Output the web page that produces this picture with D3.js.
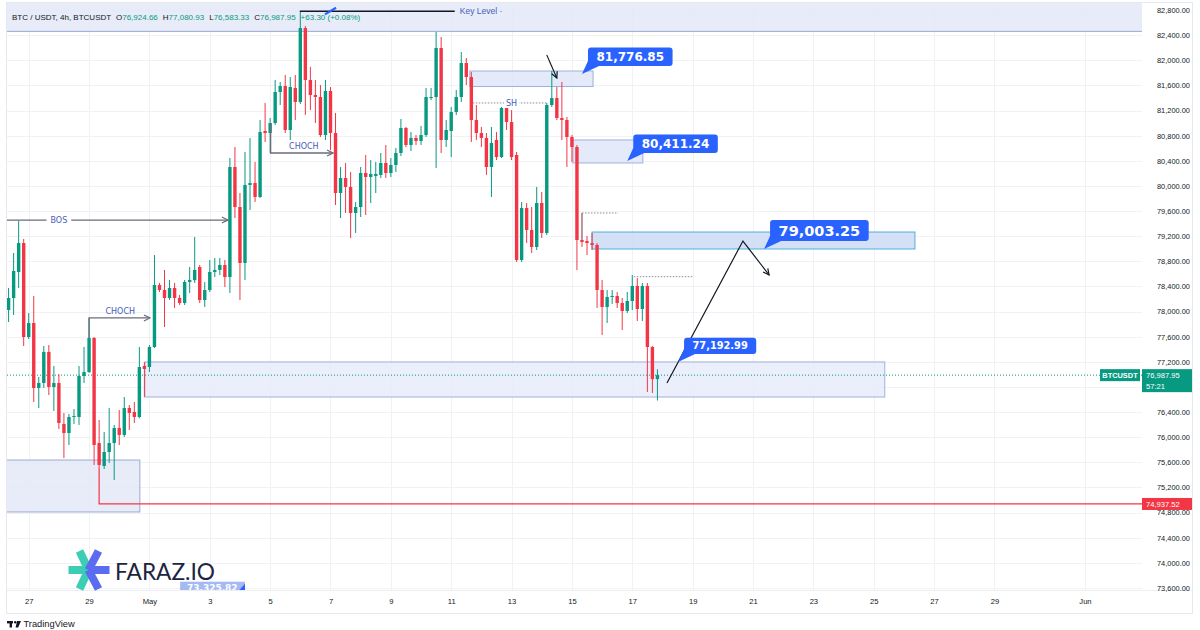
<!DOCTYPE html>
<html>
<head>
<meta charset="utf-8">
<script src="https://cdn.jsdelivr.net/npm/d3@7"></script>
<style>
  body { margin: 0; background: #ffffff; }
  svg { display: block; font-family: "Liberation Sans", Arial, sans-serif; }
</style>
</head>
<body>
<svg id="chart" width="1200" height="630"></svg>
<script>
// 4h BTC/USDT candles, first bar 26 Apr 08:00 UTC
const barStart = Date.UTC(2025, 3, 26, 8);
const barHours = 4;

const opens = [78025,78216,78630,79091,77595,77818,76784,76863,77357,76799,76863,76211,76067,76322,76322,76975,77038,77579,75908,75542,
  75765,75908,76147,76036,76465,76402,76322,77134,77118,77436,78423,78343,78216,78375,78216,78136,78471,78500,78709,78184,
  78343,78630,78662,78741,78550,80301,79664,78773,80015,80046,79824,80874,80842,81001,81495,81590,80890,81558,81336,82513,
  81686,81447,81415,80810,81511,80842,79887,80126,79983,79569,79664,80206,80142,80158,80174,80365,80206,80333,80524,80922,
  80651,80763,80715,80810,81399,81415,82195,80731,80874,81176,81415,81956,81733,81049,80842,80763,80301,80731,80460,81240,
  81017,80492,78821,79648,79298,79028,79728,79251,81288,81399,81081,81049,80779,80619,79139,79123,79091,79060,78343,78073,
  78232,78248,78136,78009,78168,78407,78041,78407,77436,76924.66];
const highs = [78375,78932,79442,79155,77977,78248,76959,77452,77468,77134,77006,76386,76370,76449,77134,77436,77898,77595,76274,76083,
  76465,76195,76433,76640,76513,76561,77436,77197,77468,78900,78455,78662,78503,78455,78264,78503,78709,79187,78741,78471,
  78821,78853,78853,78821,80444,80619,79887,80540,80763,80381,81049,81320,81081,81686,81654,81765,81733,81765,82780,82545,
  81893,81686,81606,81686,81574,81161,80301,80365,80221,79744,80301,80492,80412,80381,80524,80651,80444,80603,81065,80938,
  80858,80810,80954,81558,81558,82450,82370,81049,81256,81527,82131,82036,81813,81288,80938,80842,80938,80858,81256,81288,
  81208,80540,79744,79728,79664,79983,79903,81320,81830,81574,81654,81097,80810,80651,79569,79203,79251,79091,78503,78343,
  78343,78312,78216,78312,78582,78534,78455,78455,77452,77080.93];
const lows = [77834,77945,78375,77452,77563,76561,76465,76784,76672,76418,76131,75669,75876,76211,76195,76863,77022,75558,75510,75494,
  75590,75319,75876,76004,76115,76227,76300,76640,77038,77420,78312,77754,78184,78057,78105,78105,78296,78455,78136,78073,
  78312,78550,78582,78391,78296,79489,78184,78503,79617,79744,79808,80699,80524,80969,81288,80842,80731,81049,81304,81129,
  81208,81001,80779,80731,80572,79696,79489,79569,79171,79251,79505,79537,79728,79887,80126,80126,80142,80221,80476,80619,
  80556,80651,80651,80779,81367,80285,80524,80619,80460,81129,81336,81606,80699,80731,80619,80174,79824,80412,80444,80890,
  80412,78789,78789,79091,78932,78980,79171,79219,81256,81049,80731,80301,80381,78662,79028,78900,78980,78057,77627,77818,
  78121,78057,77707,77977,78025,77850,77850,76720,76704,76583.33];
const closes = [78216,78646,79091,77595,77818,76784,76863,77357,76799,76863,76227,76067,76322,76338,76975,77038,77579,75876,75558,75765,
  75908,76147,76036,76465,76386,76322,77118,77086,77436,78423,78343,78216,78375,78216,78136,78471,78503,78662,78184,78343,
  78630,78662,78741,78550,80301,79664,78773,80015,80046,79824,80858,80842,81001,81495,81590,80890,81574,81336,82513,81686,
  81447,81415,80810,81511,80842,79887,80126,79983,79569,79664,80206,80142,80190,80190,80365,80206,80333,80524,80922,80651,
  80763,80715,80810,81415,81415,82195,80731,80890,81176,81415,81956,81733,81049,80842,80763,80301,80683,80460,81240,81017,
  80460,78821,79648,79298,79028,79728,79251,81288,81399,81081,81049,80779,80619,79139,79107,79091,79060,78343,78073,78232,
  78248,78136,78009,78168,78407,78041,78407,77436,76924.65,76987.95];

const priceTicks = d3.range(73600, 82801, 400);
const dateTicks = [Date.UTC(2025,3,27), Date.UTC(2025,3,29), Date.UTC(2025,4,1), Date.UTC(2025,4,3), Date.UTC(2025,4,5),
  Date.UTC(2025,4,7), Date.UTC(2025,4,9), Date.UTC(2025,4,11), Date.UTC(2025,4,13), Date.UTC(2025,4,15), Date.UTC(2025,4,17),
  Date.UTC(2025,4,19), Date.UTC(2025,4,21), Date.UTC(2025,4,23), Date.UTC(2025,4,25), Date.UTC(2025,4,27), Date.UTC(2025,4,29),
  Date.UTC(2025,5,1)];
const dateLabels = ["27","29","May","3","5","7","9","11","13","15","17","19","21","23","25","27","29","Jun"];

// drawings, anchored in bar index / price
const zoneBars = [[-5, 400], [91.7, 116.2], [112.2, 126.1], [116, 180.2], [27.1, 174.2], [-5, 26.1]];
const zonePrices = [[82460, 83300], [81582, 81829], [80365, 80731], [78996, 79266], [76640, 77198], [74810, 75637]];
const calloutTexts = ["81,776.85", "80,411.24", "79,003.25", "77,192.99"];
const calloutBars = [114, 123, 150.2, 133.1];
const calloutPrices = [81781, 80397, 78996, 77198];
const keyLevel = 82780;
const bosLevel = 79457;
const shLevel = 81320;
const lastPrice = 76987.95;
const stopPrice = 74937.52;
const projection = [[130.9, 76863], [146, 79123], [151.2, 78582]];

const green = "#089981", red = "#f23645", blue = "#2962ff", labelBlue = "#4460b8";
const plot = {left: 7, right: 1142, top: 3, bottom: 590};

const svg = d3.select("#chart");
const x = d3.scaleUtc()
  .domain([Date.UTC(2025,3,26,6,44), Date.UTC(2025,5,2,21,22)])
  .range([plot.left, plot.right]);
const y = d3.scaleLinear().domain([73600, 82800]).range([588, 10]);
const bx = b => x(new Date(barStart + b * barHours * 3600e3));

const defs = svg.append("defs");
defs.append("clipPath").attr("id", "plotClip").append("rect")
  .attr("x", plot.left).attr("y", plot.top)
  .attr("width", plot.right - plot.left).attr("height", plot.bottom - plot.top);
function marker(id, color) {
  defs.append("marker").attr("id", id).attr("viewBox", "0 0 8 8")
    .attr("refX", 7).attr("refY", 4).attr("markerWidth", 8).attr("markerHeight", 8)
    .attr("markerUnits", "userSpaceOnUse").attr("orient", "auto")
    .append("path").attr("d", "M1,1 L7,4 L1,7").attr("fill", "none")
    .attr("stroke", color).attr("stroke-width", 1.2);
}
marker("arrGray", "#6a6d78");
marker("arrBlack", "#131722");

// frame
svg.append("rect").attr("x", 6.5).attr("y", 2.5).attr("width", 1186).attr("height", 611)
  .attr("fill", "#ffffff").attr("stroke", "#e6e8ee");

const plotG = svg.append("g").attr("clip-path", "url(#plotClip)");

// grid
plotG.selectAll(".hgrid").data(priceTicks).join("line")
  .attr("x1", plot.left).attr("x2", plot.right)
  .attr("y1", d => Math.round(y(d)) + 0.5).attr("y2", d => Math.round(y(d)) + 0.5)
  .attr("stroke", "#f0f2f6");
plotG.selectAll(".vgrid").data(dateTicks).join("line")
  .attr("x1", d => Math.round(x(d)) + 0.5).attr("x2", d => Math.round(x(d)) + 0.5)
  .attr("y1", plot.top).attr("y2", plot.bottom)
  .attr("stroke", "#f0f2f6");

// zones
const zoneFill = ["#e3e9f7", "#dfe6f8", "#dfe6f8", "#ccdaf5", "#e6ecfa", "#e3e9f7"];
const zoneStroke = ["#9aaad0", "#9fb0da", "#9fb0da", "#4fb0d8", "#9fb0da", "#9aaad0"];
zoneBars.forEach((zb, i) => {
  const zp = zonePrices[i];
  plotG.append("rect")
    .attr("x", bx(zb[0])).attr("width", bx(zb[1]) - bx(zb[0]))
    .attr("y", y(zp[1])).attr("height", y(zp[0]) - y(zp[1]))
    .attr("fill", zoneFill[i]).attr("fill-opacity", 0.85)
    .attr("stroke", zoneStroke[i]).attr("stroke-width", 1);
});

// last price dotted line
plotG.append("line").attr("x1", plot.left).attr("x2", plot.right)
  .attr("y1", y(lastPrice)).attr("y2", y(lastPrice))
  .attr("stroke", green).attr("stroke-dasharray", "1,2").attr("stroke-width", 1);

// red level from the swing low
const line = d3.line().x(d => bx(d[0])).y(d => y(d[1]));
plotG.append("path").attr("d", line([[18, 75510], [18, stopPrice], [400, stopPrice]]))
  .attr("fill", "none").attr("stroke", red).attr("stroke-width", 1.2);

// candles
const candles = opens.map((o, i) => ({i, o, h: highs[i], l: lows[i], c: closes[i]}));
const cg = plotG.append("g");
cg.selectAll(".wick").data(candles).join("line")
  .attr("x1", d => bx(d.i)).attr("x2", d => bx(d.i))
  .attr("y1", d => y(d.h)).attr("y2", d => y(d.l))
  .attr("stroke", d => d.c >= d.o ? green : red).attr("stroke-width", 1);
cg.selectAll(".body").data(candles).join("rect")
  .attr("x", d => bx(d.i) - 1.7).attr("width", 3.4)
  .attr("y", d => y(Math.max(d.o, d.c)))
  .attr("height", d => Math.max(1, Math.abs(y(d.o) - y(d.c))))
  .attr("fill", d => d.c >= d.o ? green : red);

// key level
plotG.append("path").attr("d", line([[57.9, keyLevel], [88.7, keyLevel]]))
  .attr("stroke", "#131722").attr("stroke-width", 1.6);
plotG.append("path").attr("d", line([[62.9, 82730], [65.1, 82835]]))
  .attr("stroke", blue).attr("stroke-width", 2.2);
plotG.append("text").attr("x", bx(89.7)).attr("y", y(keyLevel) + 3)
  .attr("font-size", 8.5).attr("fill", labelBlue).text("Key Level ·");

// structure lines
function structure(pts, label, lb, above) {
  plotG.append("path").attr("d", line(pts)).attr("fill", "none")
    .attr("stroke", "#6a6d78").attr("stroke-width", 1.3).attr("marker-end", "url(#arrGray)");
  const lp = pts[pts.length - 1][1];
  const t = plotG.append("text").attr("x", bx(lb)).attr("y", y(lp) + (above ? -4 : 3))
    .attr("text-anchor", "middle").attr("font-family", "DejaVu Sans").attr("font-size", 8)
    .attr("fill", labelBlue).text(label);
  if (!above) {
    const bb = t.node().getBBox();
    plotG.insert("rect", "text:last-of-type").attr("x", bb.x - 4).attr("y", bb.y)
      .attr("width", bb.width + 8).attr("height", bb.height).attr("fill", "#ffffff");
    t.raise();
  }
}
structure([[-0.4, bosLevel], [43.6, bosLevel]], "BOS", 10, false);
structure([[16, 77579], [16, 77898], [28.1, 77898]], "CHOCH", 22.2, true);
structure([[52.1, 81001], [52.1, 80524], [64.5, 80524]], "CHOCH", 58.7, true);

// swing high dotted
plotG.append("path").attr("d", line([[92.3, shLevel], [107.2, shLevel]]))
  .attr("stroke", "#8a8d96").attr("stroke-dasharray", "1.5,1.5");
const sh = plotG.append("text").attr("x", bx(100)).attr("y", y(shLevel) + 3)
  .attr("text-anchor", "middle").attr("font-family", "DejaVu Sans").attr("font-size", 8)
  .attr("fill", labelBlue).text("SH");
const shb = sh.node().getBBox();
plotG.insert("rect", "text:last-of-type").attr("x", shb.x - 2).attr("y", shb.y)
  .attr("width", shb.width + 4).attr("height", shb.height).attr("fill", "#ffffff");
sh.raise();

// small dotted stubs
plotG.append("path").attr("d", line([[114, 79139], [114, 79569]])).attr("stroke", "#8a8d96");
plotG.append("path").attr("d", line([[114, 79569], [121.2, 79569]]))
  .attr("stroke", "#8a8d96").attr("stroke-dasharray", "1.5,1.5");
plotG.append("path").attr("d", line([[124.3, 78555], [136.1, 78555]]))
  .attr("stroke", "#8a8d96").attr("stroke-dasharray", "1.5,1.5");

// arrows
plotG.append("path").attr("d", line([[107.0, 82084], [109.0, 81718]]))
  .attr("stroke", "#131722").attr("stroke-width", 1.1).attr("marker-end", "url(#arrBlack)");
plotG.append("path").attr("d", line(projection)).attr("fill", "none")
  .attr("stroke", "#131722").attr("stroke-width", 1.2).attr("marker-end", "url(#arrBlack)");

// callouts
const calloutSize = [12, 12, 14.5, 9.8];
calloutTexts.forEach((txt, i) => {
  const ax = bx(calloutBars[i]), ay = y(calloutPrices[i]);
  const g = plotG.append("g");
  const t = g.append("text").attr("font-family", "DejaVu Sans").attr("font-weight", "bold")
    .attr("font-size", calloutSize[i]).attr("fill", "#ffffff").text(txt);
  const w = t.node().getComputedTextLength() + 17;
  const h = calloutSize[i] + 6.5;
  const left = ax + 6, bottom = ay - 8;
  g.insert("path", "text").attr("d", `M${ax},${ay} L${left},${bottom - 5} L${left + 11},${bottom} Z`)
    .attr("fill", blue);
  g.insert("rect", "text").attr("x", left).attr("y", bottom - h).attr("width", w).attr("height", h)
    .attr("rx", 3).attr("fill", blue);
  t.attr("x", left + 8.5).attr("y", bottom - h / 2).attr("dy", "0.36em");
});

// faded label near the bottom
const fadeG = plotG.append("g");
fadeG.append("rect").attr("x", bx(34.1)).attr("y", y(73700)).attr("width", bx(47) - bx(34.1)).attr("height", 13)
  .attr("fill", "#8ea8f0").attr("fill-opacity", 0.8);
fadeG.append("path").attr("d", `M${bx(47) - 7},${y(73700) + 10} L${bx(47)},${y(73700) + 2} L${bx(47)},${y(73700) + 10} Z`)
  .attr("fill", blue);
fadeG.append("text").attr("x", bx(40.5)).attr("y", y(73700) + 9.5).attr("text-anchor", "middle")
  .attr("font-family", "DejaVu Sans").attr("font-weight", "bold").attr("font-size", 9)
  .attr("fill", "#ffffff").text("73,325.82");

// axes
svg.append("line").attr("x1", plot.left).attr("x2", 1192).attr("y1", plot.bottom + 0.5).attr("y2", plot.bottom + 0.5)
  .attr("stroke", "#eceef3");
const ly = y(lastPrice);
// labels hidden behind the last-price tag are skipped, as on the platform
const yAxis = d3.axisRight(y).tickValues(priceTicks)
  .tickFormat(d => (y(d) > ly - 10 && y(d) < ly + 21) ? "" : d3.format(",.2f")(d))
  .tickSize(0).tickPadding(0);
const yG = svg.append("g").attr("transform", `translate(1157,0)`).call(yAxis);
yG.select(".domain").remove();
yG.selectAll("text").attr("font-family", "Liberation Sans").attr("font-size", 7.4).attr("fill", "#131722");

const xAxis = d3.axisBottom(x).tickValues(dateTicks).tickFormat((d, i) => dateLabels[i]).tickSize(0).tickPadding(9);
const xG = svg.append("g").attr("transform", `translate(0,${plot.bottom})`).call(xAxis);
xG.select(".domain").remove();
xG.selectAll("text").attr("font-family", "Liberation Sans").attr("font-size", 7.6).attr("fill", "#131722");

// price tags
svg.append("rect").attr("x", 1100).attr("y", ly - 6).attr("width", 40).attr("height", 12).attr("fill", green);
svg.append("text").attr("x", 1120).attr("y", ly + 3).attr("text-anchor", "middle").attr("font-size", 7.4)
  .attr("font-weight", "bold").attr("fill", "#ffffff").text("BTCUSDT");
svg.append("rect").attr("x", 1142).attr("y", ly - 6).attr("width", 50).attr("height", 23).attr("fill", green);
svg.append("text").attr("x", 1146).attr("y", ly + 3).attr("font-size", 7.6).attr("fill", "#ffffff")
  .text(d3.format(",.2f")(lastPrice));
svg.append("text").attr("x", 1146).attr("y", ly + 14).attr("font-size", 7.6).attr("fill", "#ffffff").text("57:21");
const sy = y(stopPrice);
svg.append("rect").attr("x", 1142).attr("y", sy - 6).attr("width", 50).attr("height", 12).attr("fill", red);
svg.append("text").attr("x", 1146).attr("y", sy + 3).attr("font-size", 7.6).attr("fill", "#ffffff")
  .text(d3.format(",.2f")(stopPrice));

// header legend
const last = candles[candles.length - 1];
const prev = candles[candles.length - 2].c;
const chg = last.c - prev;
const fmt = d3.format(",.2f");
const hdr = svg.append("text").attr("x", 12).attr("y", 20).attr("font-size", 8).attr("fill", "#131722");
hdr.append("tspan").text("BTC / USDT, 4h, BTCUSDT");
[["O", last.o], ["H", last.h], ["L", last.l], ["C", last.c]].forEach(([k, v]) => {
  hdr.append("tspan").attr("dx", 5).text(k);
  hdr.append("tspan").attr("fill", green).text(fmt(v));
});
hdr.append("tspan").attr("dx", 5).attr("fill", green)
  .text(`${chg >= 0 ? "+" : ""}${fmt(chg)} (${chg >= 0 ? "+" : ""}${(chg / prev * 100).toFixed(2)}%)`);

// watermark logo
const logo = svg.append("g");
const cx = 88.5, cyL = 570;
[[-20, 0], [-9, -19], [-9, 19]].forEach(([dx, dy]) =>
  logo.append("line").attr("x1", cx).attr("y1", cyL).attr("x2", cx + dx).attr("y2", cyL + dy)
    .attr("stroke", "#3ccdb5").attr("stroke-width", 8));
[[21, 0], [10, -19], [10, 19]].forEach(([dx, dy]) =>
  logo.append("line").attr("x1", cx).attr("y1", cyL).attr("x2", cx + dx).attr("y2", cyL + dy)
    .attr("stroke", "#5b6cf0").attr("stroke-width", 8));
logo.append("text").attr("x", 115).attr("y", 580).attr("font-family", "Lato").attr("font-size", 24)
  .attr("textLength", 100).attr("lengthAdjust", "spacingAndGlyphs").attr("fill", "#1c2440").text("FARAZ.IO");

// footer
const tv = svg.append("g").attr("fill", "#131722");
tv.append("rect").attr("x", 7).attr("y", 621).attr("width", 6).attr("height", 2.4);
tv.append("rect").attr("x", 9.6).attr("y", 621).attr("width", 2.4).attr("height", 6.5);
tv.append("circle").attr("cx", 15.2).attr("cy", 622.2).attr("r", 1.2);
tv.append("path").attr("d", "M17,621 L21,621 L18.2,627.5 L15.6,627.5 Z");
svg.append("text").attr("x", 23.5).attr("y", 627).attr("font-size", 9.3).attr("fill", "#131722").text("TradingView");
</script>
</body>
</html>
